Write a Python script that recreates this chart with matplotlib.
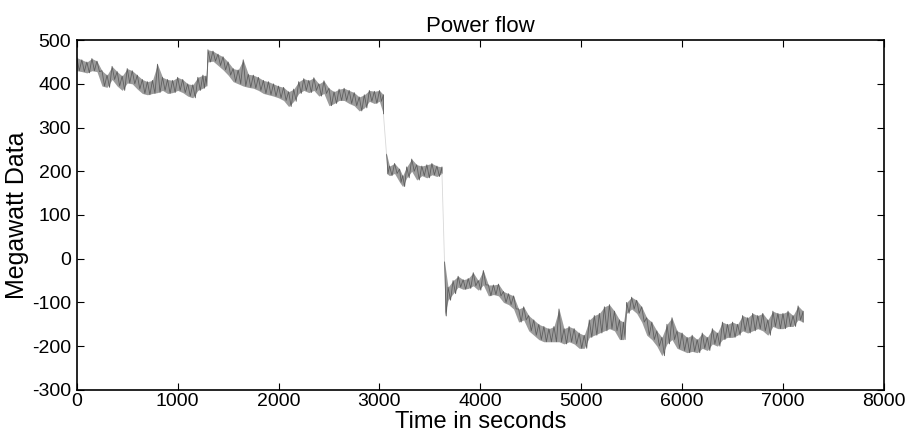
import numpy as np
import matplotlib
matplotlib.use("Agg")
import matplotlib.pyplot as plt

plt.rcParams['font.family'] = ['Liberation Sans', 'DejaVu Sans']
plt.rcParams['axes.unicode_minus'] = False

# power flow trace, read off the picture as upper / lower edge of the noise band
# segment 1 (before first drop)
t1 = [0, 50, 100, 150, 200, 250, 300, 350, 400, 450, 500, 550, 600, 650, 700,
      750, 800, 850, 900, 950, 1000, 1050, 1100, 1150, 1200, 1250, 1280, 1300,
      1350, 1400, 1450, 1500, 1550, 1600, 1650, 1700, 1750, 1800, 1850, 1900,
      1950, 2000, 2050, 2100, 2150, 2200, 2250, 2300, 2350, 2400, 2450, 2500,
      2550, 2600, 2650, 2700, 2750, 2800, 2850, 2900, 2950, 3000, 3040]
hi1 = [460, 455, 450, 458, 452, 430, 420, 440, 428, 418, 435, 430, 420, 410, 405,
       408, 445, 415, 410, 408, 415, 410, 400, 398, 415, 420, 418, 478,
       475, 468, 462, 450, 435, 432, 455, 422, 420, 415, 408, 405,
       400, 395, 392, 382, 388, 405, 412, 408, 414, 400, 407, 390,
       382, 388, 390, 385, 380, 370, 375, 385, 383, 385, 375]
lo1 = [430, 428, 425, 430, 428, 395, 392, 410, 395, 385, 402, 400, 388, 378, 375,
       378, 380, 385, 378, 380, 385, 380, 372, 368, 385, 390, 395, 450,
       452, 442, 432, 420, 405, 400, 395, 392, 390, 385, 378, 375,
       372, 368, 362, 348, 360, 378, 385, 380, 385, 372, 378, 350,
       355, 362, 362, 355, 350, 338, 345, 360, 355, 360, 330]

# segment 2 (between the two drops)
t2 = [3070, 3100, 3150, 3200, 3230, 3270, 3320, 3370, 3420, 3470, 3520, 3570, 3620]
hi2 = [240, 212, 218, 205, 190, 210, 228, 215, 212, 215, 218, 212, 210]
lo2 = [195, 190, 195, 175, 165, 185, 200, 180, 190, 185, 192, 188, 195]

# segment 3 (after second drop)
t3 = [3645, 3680, 3730, 3780, 3830, 3880, 3930, 3980, 4030, 4080, 4130, 4180,
      4230, 4280, 4330, 4380, 4430, 4480, 4530, 4580, 4630, 4680, 4730, 4780,
      4830, 4880, 4930, 4980, 5030, 5080, 5130, 5180, 5230, 5280, 5330, 5380,
      5420, 5450, 5500, 5550, 5600, 5650, 5700, 5750, 5800, 5850, 5900, 5950,
      6000, 6050, 6100, 6150, 6200, 6250, 6300, 6350, 6400, 6450, 6500, 6550,
      6600, 6650, 6700, 6750, 6800, 6850, 6900, 6950, 7000, 7050, 7100, 7150, 7200]
hi3 = [-6, -65, -50, -40, -48, -45, -32, -50, -27, -60, -60, -58,
       -75, -80, -85, -115, -110, -130, -140, -150, -155, -160, -155, -115,
       -160, -155, -160, -170, -175, -140, -130, -125, -110, -105, -120, -140,
       -145, -100, -88, -95, -110, -135, -145, -165, -180, -150, -135, -165,
       -170, -180, -175, -185, -170, -180, -160, -170, -145, -150, -145, -150,
       -130, -135, -125, -130, -125, -140, -120, -125, -125, -120, -130, -108, -120]
lo3 = [-131, -95, -80, -65, -70, -68, -62, -72, -60, -85, -82, -85,
       -100, -105, -115, -145, -140, -165, -175, -185, -190, -190, -190, -190,
       -195, -190, -195, -205, -205, -180, -175, -170, -165, -160, -165, -185,
       -185, -125, -115, -125, -145, -175, -185, -200, -222, -195, -185, -205,
       -210, -215, -212, -215, -205, -210, -195, -200, -185, -180, -180, -175,
       -165, -170, -165, -160, -165, -175, -155, -160, -160, -155, -155, -140, -145]


def band(t, hi, lo):
    # zigzag between upper and lower edge so the trace looks like a noisy band
    xs, ys = [], []
    for i in range(len(t)):
        step = (t[i + 1] - t[i]) / 2 if i + 1 < len(t) else 0
        xs.extend([t[i], t[i] + step])
        ys.extend([hi[i], lo[i]])
    return xs, ys


fig = plt.figure(figsize=(9.14, 4.41), dpi=100)
ax = fig.add_axes([0.084, 0.116, 0.883, 0.793])

col = '#5f5f5f'
for t, hi, lo in [(t1, hi1, lo1), (t2, hi2, lo2), (t3, hi3, lo3)]:
    ax.fill_between(t, lo, hi, color='#9c9c9c', lw=0)
    xs, ys = band(t, hi, lo)
    ax.plot(xs, ys, color=col, lw=0.6)

# faint jumps between the segments
ax.plot([t1[-1], t2[0]], [lo1[-1], hi2[0]], color='#d8d8d8', lw=0.6)
ax.plot([t2[-1], t3[0]], [lo2[-1], hi3[0]], color='#d8d8d8', lw=0.6)

ax.set_xlim(0, 8000)
ax.set_ylim(-300, 500)
ax.set_xticks(np.arange(0, 8001, 1000))
ax.set_yticks(np.arange(-300, 501, 100))
ax.tick_params(direction='in', top=True, right=True, labelsize=14, length=5)
ax.tick_params(axis='x', pad=2)
ax.tick_params(axis='y', pad=4)
for s in ax.spines.values():
    s.set_linewidth(1.2)

ax.set_title('Power flow', fontsize=16, pad=6)
ax.set_xlabel('Time in seconds', fontsize=17, labelpad=1)
ax.set_ylabel('Megawatt Data', fontsize=18, labelpad=2)

fig.savefig('out.png', dpi=100)
